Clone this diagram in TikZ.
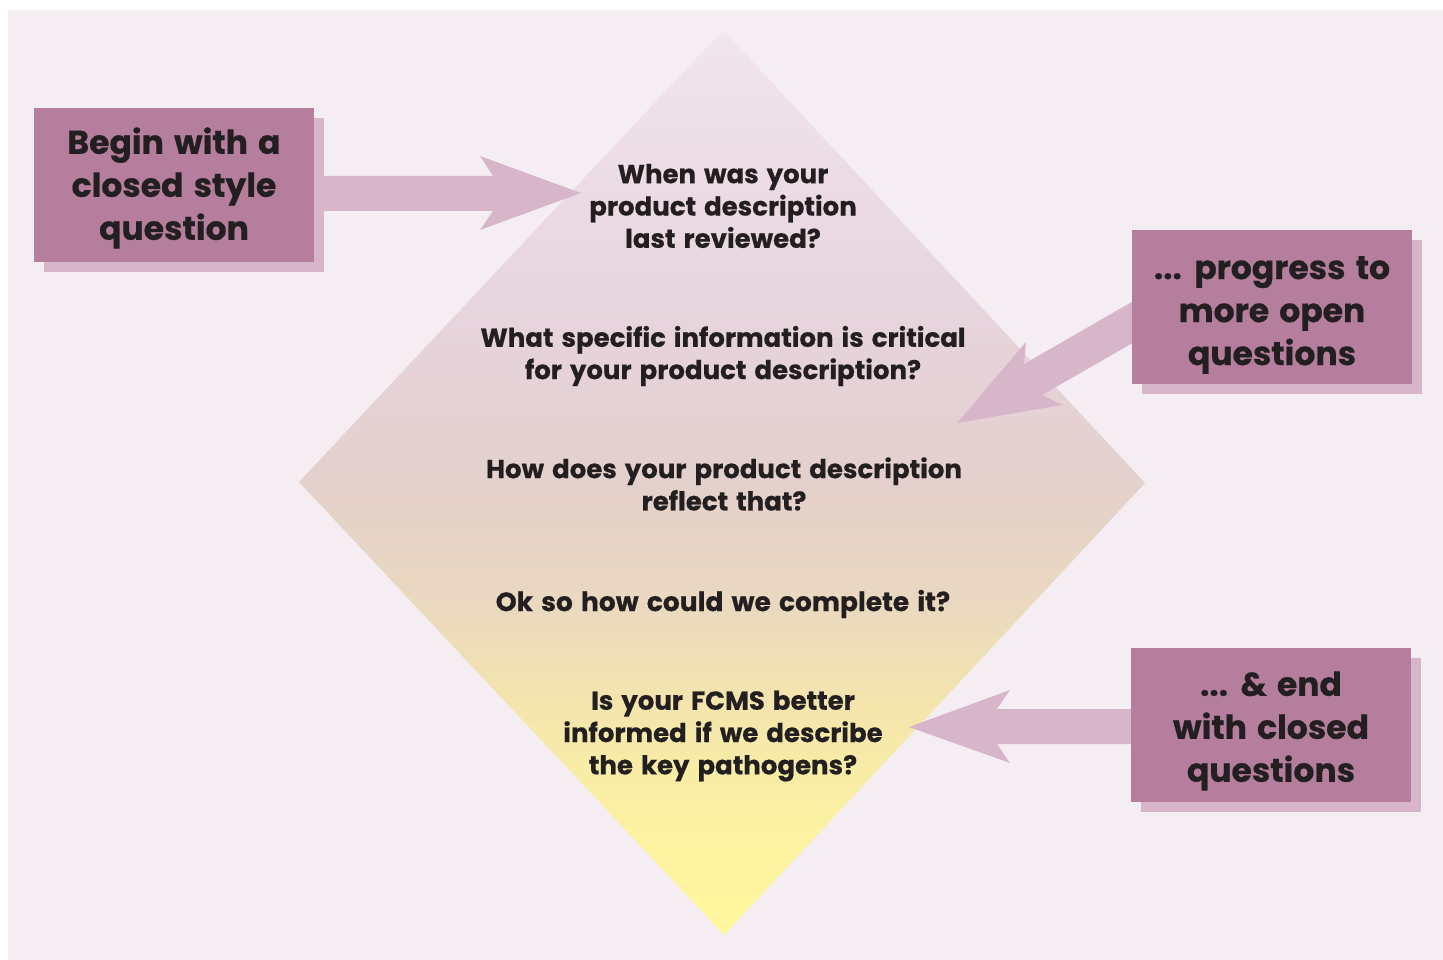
\documentclass[tikz,border=0pt]{standalone}
\usepackage{fontspec}
\usetikzlibrary{backgrounds}
\newfontfamily\fut{Poppins}[WordSpace=1.45, BoldFeatures={FakeBold=0.5}]
\definecolor{bg}{HTML}{F4EEF2}
\definecolor{boxc}{HTML}{B57E9D}
\definecolor{shad}{HTML}{D8B6CA}
\definecolor{ink}{HTML}{231F20}
\definecolor{d0}{HTML}{F1E6EE}
\definecolor{d1}{HTML}{EBDAE4}
\definecolor{d2}{HTML}{E6D3DA}
\definecolor{d3}{HTML}{E4D0CC}
\definecolor{d4}{HTML}{EAD8C0}
\definecolor{d5}{HTML}{F4E6AC}
\definecolor{d55}{HTML}{FCF2A2}
\definecolor{d6}{HTML}{FFF69E}
\pgfdeclareverticalshading{diam}{100bp}{color(0bp)=(d6); color(25bp)=(d6); color(30.8bp)=(d55); color(37.5bp)=(d5); color(43.5bp)=(d4); color(50.1bp)=(d3); color(57.3bp)=(d2); color(65.6bp)=(d1); color(75bp)=(d0); color(100bp)=(d0)}
\tikzset{
  qbox/.style={fill=boxc, inner sep=0pt, minimum width=280pt, minimum height=154pt},
  boxtext/.style={text=ink, align=center, inner sep=0pt, font=\fut\bfseries\fontsize{33}{43}\selectfont},
  qtext/.style={text=ink, align=center, inner sep=0pt, font=\fut\bfseries\fontsize{26}{32.3}\selectfont},
  blockarrow/.style={fill=shad},
  shadowbox/.style={fill=shad}
}
\begin{document}
\begin{tikzpicture}[x=1pt,y=-1pt]
\useasboundingbox (0,0) rectangle (1443,960);
% boxes
\node[qbox] (b1) at (174,185) {};
\node[qbox] (b2) at (1272,307) {};
\node[qbox] (b3) at (1271,725) {};
\node[boxtext] (b1t) at ([yshift=-3]b1.center) {Begin with a\\closed style\\question};
\node[boxtext] (b2t) at ([yshift=-8]b2.center) {... progress to\\more open\\questions};
\node[boxtext] (b3t) at ([yshift=-6]b3.center) {... \& end\\with closed\\questions};
% text nodes in diamond
\node[qtext] (t1) at (723,206) {When was your\\product description\\last reviewed?};
\node[qtext] (t2) at (723,356) {What specific information is critical\\for your product description?};
\node[qtext] (t3) at (724,484) {How does your product description\\reflect that?};
\node[qtext, font=\fut\bfseries\fontsize{26.5}{32.3}\selectfont] (t4) at (723,604) {Ok so how could we complete it?};
\node[qtext] (t5) at (723,736) {Is your FCMS better\\informed if we describe\\the key pathogens?};
\coordinate (a1tip) at (581,193);
\coordinate (a2tip) at (957,423);
\coordinate (a3tip) at (909,727);
\begin{scope}[on background layer]
\fill[white] (0,0) rectangle (1443,960);
\fill[bg] (8,10) rectangle (1443,960);
% diamond
\path[shading=diam] (723,30) -- (1145,483) -- (724,935) -- (299,482) -- cycle;
% shadows
\foreach \b in {b1,b2,b3}
  \fill[shadowbox] ([shift={(10,10)}]\b.south west) rectangle ([shift={(10,10)}]\b.north east);
% arrows
\fill[blockarrow] (b1.east |- 0,176) -- (493,176) -- (480,156) -- (a1tip) -- (480,230) -- (493,211) -- (b1.east |- 0,211) -- cycle;
\fill[blockarrow] (b2.west |- 0,302) -- (1024,364) -- (1026,342) -- (a2tip) -- (1062,405) -- (1042,395) -- (b2.west |- 0,343.5) -- cycle;
\fill[blockarrow] (b3.west |- 0,709) -- (997,709) -- (1010,690) -- (a3tip) -- (1010,763) -- (997,744) -- (b3.west |- 0,744) -- cycle;
\end{scope}
\end{tikzpicture}
\end{document}
